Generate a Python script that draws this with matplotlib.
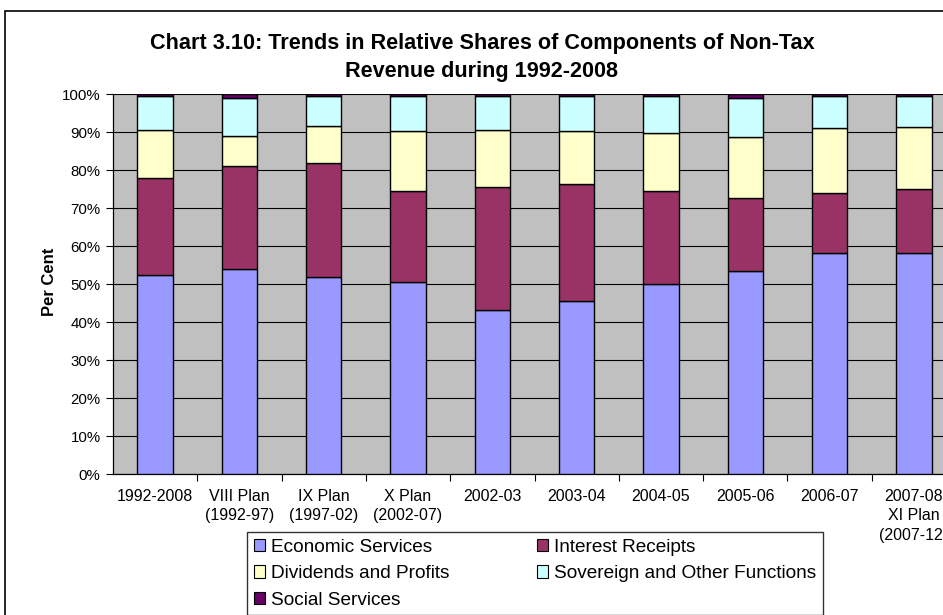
import matplotlib
matplotlib.use("Agg")
import matplotlib.pyplot as plt
from matplotlib.patches import Rectangle, Patch
import numpy as np

# Data (per cent shares)
categories = ["1992-2008", "VIII Plan\n(1992-97)", "IX Plan\n(1997-02)", "X Plan\n(2002-07)",
              "2002-03", "2003-04", "2004-05", "2005-06", "2006-07", "2007-08\nXI Plan\n(2007-12)"]
economic = [52.4, 53.9, 51.9, 50.4, 43.2, 45.4, 50.1, 53.5, 58.2, 58.2]
interest = [25.4, 27.1, 29.9, 24.2, 32.2, 30.9, 24.5, 19.2, 15.7, 16.7]
dividends = [12.7, 8.0, 9.9, 15.7, 15.1, 14.0, 15.2, 16.1, 17.1, 16.4]
sovereign = [9.1, 10.0, 7.9, 9.3, 9.1, 9.3, 9.8, 10.2, 8.6, 8.3]
social = [0.4, 1.0, 0.4, 0.4, 0.4, 0.4, 0.4, 1.0, 0.4, 0.4]

series = [("Economic Services", economic, "#9999FF"),
          ("Interest Receipts", interest, "#993366"),
          ("Dividends and Profits", dividends, "#FFFFCC"),
          ("Sovereign and Other Functions", sovereign, "#CCFFFF"),
          ("Social Services", social, "#660066")]

plt.rcParams['font.family'] = ['Liberation Sans', 'DejaVu Sans']

W, H = 943, 615
fig = plt.figure(figsize=(W / 100, H / 100), dpi=100)

# plot area in pixel terms (right side runs past the image edge, as in the original)
left, right, top, bottom = 113, 956, 94, 474
ax = fig.add_axes([left / W, 1 - bottom / H, (right - left) / W, (bottom - top) / H])
ax.set_facecolor("#C0C0C0")

x = np.arange(len(categories))
base = np.zeros(len(categories))
handles = {}
for name, vals, col in series:
    ax.bar(x, vals, bottom=base, width=0.42, color=col, edgecolor="black", linewidth=1.0, zorder=3)
    base += np.array(vals)
    handles[name] = Patch(facecolor=col, edgecolor="black", linewidth=0.8)

ax.set_xlim(-0.5, len(categories) - 0.5)
ax.set_ylim(0, 100)
ax.set_yticks(np.arange(0, 101, 10))
ax.set_yticklabels([f"{v}%" for v in range(0, 101, 10)], fontsize=10.8)
ax.yaxis.grid(True, color="black", linewidth=0.8)
ax.set_axisbelow(True)
ax.tick_params(axis="y", direction="out", length=5, width=0.8, pad=4)

ax.set_xticks(np.arange(0.5, len(categories) - 1, 1.0))
ax.set_xticklabels([])
ax.tick_params(axis="x", which="major", direction="out", length=5, width=0.8)
ax.set_xticks(x, minor=True)
ax.set_xticklabels(categories, minor=True, fontsize=11.5, linespacing=1.35)
ax.tick_params(axis="x", which="minor", length=0, pad=11)

for s in ["top", "right"]:
    ax.spines[s].set_visible(False)
for s in ["left", "bottom"]:
    ax.spines[s].set_color("black")
    ax.spines[s].set_linewidth(0.9)

# title and y label
fig.text(482 / W, 1 - 43 / H, "Chart 3.10: Trends in Relative Shares of Components of Non-Tax",
         ha="center", va="center", fontsize=15.6, fontweight="bold")
fig.text(482 / W, 1 - 71 / H, "Revenue during 1992-2008",
         ha="center", va="center", fontsize=15.6, fontweight="bold")
fig.text(50 / W, 1 - 282 / H, "Per Cent", rotation=90, ha="center", va="center",
         fontsize=12, fontweight="bold")

# legend
order = ["Economic Services", "Dividends and Profits", "Social Services",
         "Interest Receipts", "Sovereign and Other Functions"]
leg = fig.legend([handles[n] for n in order], order, ncol=2, loc="upper left",
                 bbox_to_anchor=(247 / W, 1 - 532 / H), bbox_transform=fig.transFigure,
                 fontsize=13.7, frameon=True, fancybox=False, borderaxespad=0,
                 handlelength=0.6, handleheight=0.6, handletextpad=0.3,
                 columnspacing=4.6, labelspacing=0.5, borderpad=0.35)
leg.get_frame().set_edgecolor("black")
leg.get_frame().set_linewidth(1.0)

# chart border
fig.patches.append(Rectangle((5 / W, -0.1), 1.2, 1.1 - 11 / H, transform=fig.transFigure,
                             fill=False, edgecolor="black", linewidth=1.2))

fig.savefig("out.png", dpi=100)
